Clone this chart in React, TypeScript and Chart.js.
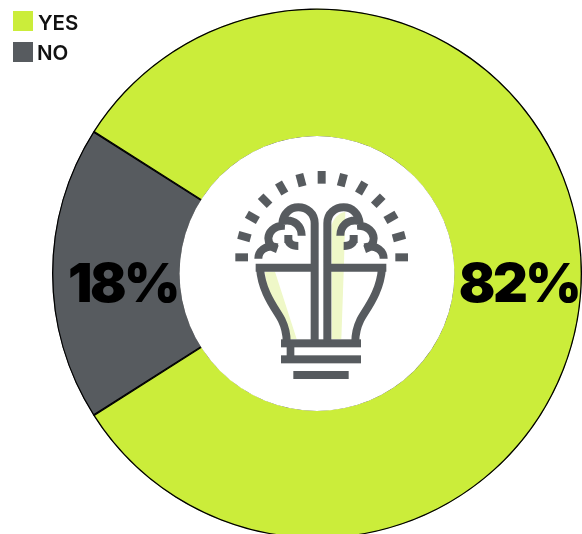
import React, { useEffect, useRef } from "react";
import { Chart, registerables } from "chart.js";

Chart.register(...registerables);

const categories = ["YES", "NO"];
const shares = [82, 18];
const colors = ["#cbed3a", "#575b5f"];
const percentXCentres = [519, 123];

const INK = "#575b5f";
const TINT = "#eff8c8";

const legendAndLabels = {
  id: "legendAndLabels",
  afterDraw(chart: Chart) {
    const ctx = chart.ctx as CanvasRenderingContext2D & { letterSpacing: string };
    ctx.save();
    // hide the inner edge of the ring: the reference has no line there
    const arc = chart.getDatasetMeta(0).data[0] as any;
    ctx.fillStyle = "#fff";
    ctx.beginPath();
    ctx.arc(arc.x, arc.y, arc.innerRadius + 1.5, 0, Math.PI * 2);
    ctx.fill();

    // legend
    categories.forEach((name, i) => {
      ctx.fillStyle = colors[i];
      ctx.fillRect(13, 11 + i * 31, 20, 20);
      ctx.fillStyle = "#111";
      ctx.font = "600 20.5px Inter";
      ctx.textAlign = "left";
      ctx.textBaseline = "alphabetic";
      ctx.fillText(name, i === 0 ? 38 : 37, 30 + i * 30);
    });
    // value labels
    ctx.fillStyle = "#000";
    ctx.font = "900 54px Inter";
    ctx.letterSpacing = "-2.5px";
    ctx.textAlign = "center";
    shares.forEach((v, i) => ctx.fillText(v + "%", percentXCentres[i], 302));
    ctx.letterSpacing = "0px";

    // centre icon
    ctx.translate(220, 160);
    ctx.scale(1 / 3, 1 / 3);
    ctx.fillStyle = TINT;
    ctx.fill(new Path2D("M135 335 H165 L230 537 H195 C195 490 140 430 135 335 Z"));
    ctx.fill(new Path2D("M335 195 C340 175 355 160 376 155 L372 310 L364 537 H335 Z"));

    ctx.fillStyle = INK;
    for (let i = 0; i <= 12; i++) {
      const a = (Math.PI * i) / 12;
      ctx.save();
      ctx.translate(305 - 240 * Math.cos(a), 292 - 240 * Math.sin(a));
      ctx.rotate(a);
      ctx.fillRect(-19, -12, 38, 24);
      ctx.restore();
    }
    ctx.fillRect(183, 538, 240, 24);
    ctx.fillRect(183, 586, 240, 24);
    ctx.fillRect(200, 560, 23, 28);
    ctx.fillRect(220, 633, 166, 24);

    ctx.strokeStyle = INK;
    ctx.lineWidth = 24;
    const half = new Path2D(
      "M107 323 H284 " +
        "M120 323 C125 400 170 450 185 480 C197 505 200 520 200 545 " +
        "M284 545 V190 C284 160 260 142 235 142 C210 142 190 160 187 190 " +
        "M187 183 C225 175 245 200 245 227 " +
        "M195 197 C160 195 145 220 145 235 C145 250 155 262 172 268 " +
        "M172 262 C135 252 115 275 115 296 " +
        "M193 237 H205 C205 250 215 258 235 258"
    );
    ctx.stroke(half);
    ctx.translate(606, 0);
    ctx.scale(-1, 1);
    ctx.stroke(half);
    ctx.restore();
  },
};

export default function App() {
  const ref = useRef<HTMLCanvasElement>(null);
  useEffect(() => {
    document.body.style.margin = "0";
    const chart = new Chart(ref.current!, {
      type: "doughnut",
      data: {
        labels: categories,
        datasets: [
          {
            data: shares,
            backgroundColor: colors,
            borderColor: "#000",
            borderWidth: 1,
            borderAlign: "inner",
          },
        ],
      },
      options: {
        animation: false,
        responsive: false,
        rotation: 302.4,
        cutout: "51.3%",
        layout: { padding: { left: 52, top: 8, right: 0, bottom: 3 } },
        plugins: { legend: { display: false }, tooltip: { enabled: false } },
      },
      plugins: [legendAndLabels],
    });
    return () => chart.destroy();
  }, []);
  return (
    <div style={{ width: 582, height: 534, overflow: "hidden", background: "#fff" }}>
      <canvas ref={ref} width={582} height={542} style={{ display: "block" }} />
    </div>
  );
}
